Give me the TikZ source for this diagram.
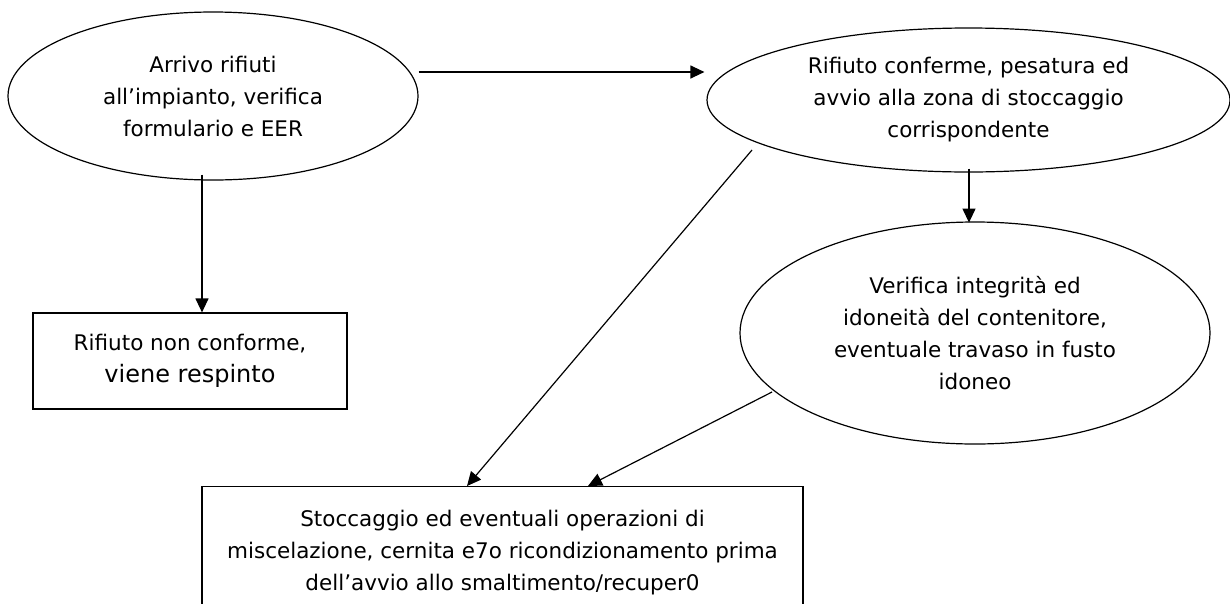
\documentclass[tikz,border=0pt]{standalone}
\usepackage{fontspec}
\setmainfont{DejaVu Sans}
\usetikzlibrary{shapes.geometric,arrows.meta,calc}
\tikzset{
  oval/.style={ellipse, draw, line width=1.2pt, inner sep=0pt, align=center,
    font=\fontsize{21.5pt}{32pt}\selectfont},
  boxnode/.style={rectangle, draw, line width=1.2pt, inner sep=0pt, align=center,
    font=\fontsize{21.5pt}{32pt}\selectfont},
  arr/.style={line width=1.2pt, -{Triangle[length=14pt,width=13pt]}}
}
\begin{document}
\begin{tikzpicture}[x=1pt,y=-1pt]
\useasboundingbox (0,0) rectangle (1230,603);
\node[oval, minimum width=410pt, minimum height=168pt] (A) at (213,96)
  {Arrivo rifiuti\\all’impianto, verifica\\formulario e EER};
\node[oval, minimum width=523pt, minimum height=144pt] (C) at (968.5,100)
  {Rifiuto conferme, pesatura ed\\avvio alla zona di stoccaggio\\corrispondente};
\node[oval, minimum width=470pt, minimum height=222pt] (D) at (975,333)
  {Verifica integrità ed\\idoneità del contenitore,\\eventuale travaso in fusto\\idoneo};
\node[boxnode, minimum width=314pt, minimum height=96pt] (B) at (190,361)
  {Rifiuto non conforme,\\{\fontsize{24pt}{32pt}\selectfont viene respinto}};
\node[boxnode, minimum width=601pt, minimum height=134pt, anchor=north] (E) at (502.5,486)
  {\rule{0pt}{0pt}};
\node[font=\fontsize{21.5pt}{32pt}\selectfont, align=center] (Et) at (502.5,553)
  {Stoccaggio ed eventuali operazioni di\\miscelazione, cernita e7o ricondizionamento prima\\dell’avvio allo smaltimento/recuper0};
\draw[arr] ($(A.east)+(0,-24)$) -- ($(C.west)+(-2,-28)$);
\draw[arr] ($(A.south)+(-11,-6)$) -- ($(B.north)+(12,0)$);
\draw[arr] ($(C.south)+(0.5,-4)$) -- ($(C.south)+(0.5,50)$);
\draw[arr] ($(C.center)+(-216.5,50)$) -- ($(E.north)+(-35.5,0)$);
\draw[arr] ($(D.center)+(-203,59)$) -- ($(E.north)+(85.5,0)$);
\end{tikzpicture}
\end{document}
